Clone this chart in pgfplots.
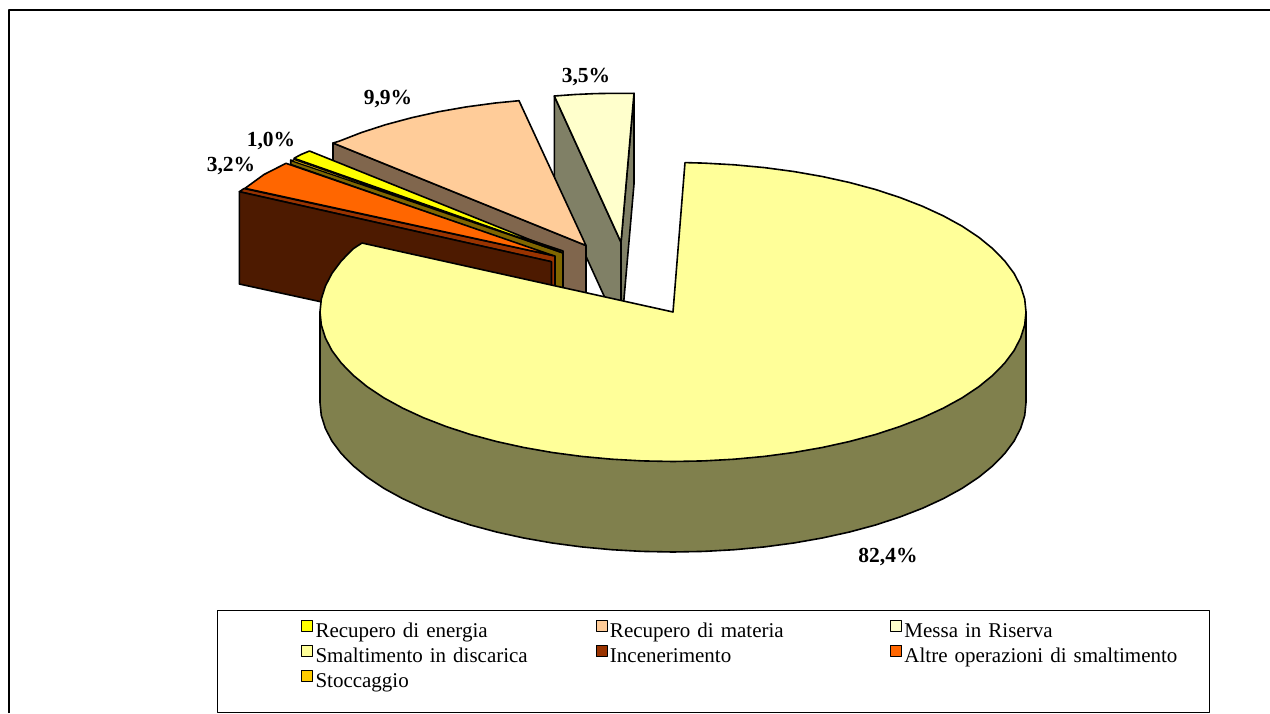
\documentclass[border=0pt]{standalone}
\usepackage{pgfplots}
\usepackage{fontspec}
\setmainfont{Liberation Serif}
\pgfplotsset{compat=1.18}

\definecolor{cRiserva}{HTML}{FFFFCC}
\definecolor{wRiserva}{HTML}{808066}
\definecolor{cMateria}{HTML}{FFCC99}
\definecolor{wMateria}{HTML}{80664D}
\definecolor{cEnergia}{HTML}{FFFF00}
\definecolor{wEnergia}{HTML}{806600}
\definecolor{cStocc}{HTML}{FFCC00}
\definecolor{cAltre}{HTML}{FF6600}
\definecolor{cInc}{HTML}{993300}
\definecolor{wInc}{HTML}{4D1A00}
\definecolor{cDisc}{HTML}{FFFF99}
\definecolor{wDisc}{HTML}{80804D}

\begin{document}
\begin{tikzpicture}
\useasboundingbox (0,0) rectangle (1270pt,713pt);
\begin{axis}[
    at={(0,0)}, anchor=south west,
    scale only axis, width=1270pt, height=713pt,
    xmin=0, xmax=1270, ymin=0, ymax=713,
    y dir=reverse, hide axis, clip=false,
    every axis plot/.append style={draw=black, line width=1.6pt, line join=round},
    legend style={
        at={(axis cs:301,619.3)}, anchor=north west, draw=none, fill=none,
        font=\fontsize{21}{25}\selectfont, legend columns=3,
        inner sep=0pt, outer sep=0pt,
        nodes={inner sep=0pt, text width=280pt, text height=18pt, text depth=7pt, anchor=base, align=left},
    },
    legend image code/.code={
        \draw[#1, line width=1.4pt] (0pt,5.7pt) rectangle (11pt,17pt);
        \path (13pt,0pt);},
]
% legend images have to come first so the entries pick them up
\addlegendimage{fill=cEnergia}
\addlegendimage{fill=cMateria}
\addlegendimage{fill=cRiserva}
\addlegendimage{fill=cDisc}
\addlegendimage{fill=cInc}
\addlegendimage{fill=cAltre}
\addlegendimage{fill=cStocc}

% frame: left and top only, the page cuts the rest
\addplot[line width=1.5pt] coordinates {(9,713)(9,10)(1270,10)};
% legend box
\addplot[line width=1pt] coordinates {(217,712)(217,610.5)(1209,610.5)(1209,712)} --cycle;

% Messa in Riserva
\addplot[fill=wRiserva] coordinates {(554.3,96)(621,242.3)(621,333)(554.3,187)} --cycle;
\addplot[fill=wRiserva] coordinates {(634,93.3)(621,242.3)(621,333)(634,184)} --cycle;
\addplot[fill=cRiserva] coordinates {(554.3,96)(575,94.5)(595,93.6)(615,93.3)(634,93.3)(621,242.3)} --cycle;

% Recupero di materia
\addplot[fill=wMateria] coordinates {(333,143)(586,245.5)(586,336)(333,234)} --cycle;
\addplot[fill=cMateria] coordinates {(519,100.7)(495.3,103)(466.3,106.9)(438.2,111.8)(411.3,117.8)(385.6,124.7)(361.5,132.5)(339.1,141.2)(333,143)(586,245.5)} --cycle;

% Recupero di energia + Stoccaggio (almost a line)
\addplot[fill=wEnergia] coordinates {(290.7,160)(563,251)(563,345)(555,345)(555,257)(290.7,164.5)} --cycle;
\addplot[fill=cEnergia] coordinates {(309.5,151)(301,154.5)(294,158.3)(563,253)} --cycle;
\addplot[fill=cStocc, line width=1.2pt] coordinates {(294,159.5)(563,253)(292,161)} --cycle;

% Altre operazioni di smaltimento
\addplot[fill=cInc] coordinates {(244,188.5)(555,256)(555,350)(551,350)(551,261.7)(239.5,191.7)} --cycle;
\addplot[fill=cAltre] coordinates {(286,163.3)(264,174.5)(245,188.3)(553,255.5)} --cycle;

% Incenerimento
\addplot[fill=wInc] coordinates {(239.3,191.7)(551.5,261.7)(551.5,352)(239.3,284)} --cycle;

% Smaltimento in discarica: side wall, then top face
\addplot[fill=wDisc] coordinates {
    (320,312)(320,402.5)(321.3,415.5)(325.4,428.5)(332,441.2)(341.3,453.6)(353.1,465.7)(367.3,477.3)
    (383.8,488.3)(402.6,498.6)(423.4,508.2)(446.1,517)(470.5,525)(496.5,532)(523.8,538)(552.3,543)
    (581.6,546.9)(611.7,549.7)(642.2,551.4)(673,552)(703.8,551.4)(734.3,549.7)(764.4,546.9)(793.7,543)
    (822.2,538)(849.5,532)(875.5,525)(899.9,517)(922.6,508.2)(943.4,498.6)(962.2,488.3)(978.7,477.3)
    (992.9,465.7)(1004.7,453.6)(1014,441.2)(1020.6,428.5)(1024.7,415.5)(1026,402.5)(1026,312)
} --cycle;
\addplot[fill=cDisc] coordinates {
    (673,312)(685,162.6)(703.8,163.1)(734.3,164.8)(764.4,167.6)(793.7,171.5)(822.2,176.5)(849.5,182.5)
    (875.5,189.5)(899.9,197.5)(922.6,206.3)(943.4,215.9)(962.2,226.2)(978.7,237.2)(992.9,248.8)
    (1004.7,260.9)(1014,273.3)(1020.6,286)(1024.7,299)(1026,312)(1024.7,325)(1020.6,338)(1014,350.7)
    (1004.7,363.1)(992.9,375.2)(978.7,386.8)(962.2,397.8)(943.4,408.1)(922.6,417.7)(899.9,426.5)
    (875.5,434.5)(849.5,441.5)(822.2,447.5)(793.7,452.5)(764.4,456.4)(734.3,459.2)(703.8,460.9)
    (673,461.5)(642.2,460.9)(611.7,459.2)(581.6,456.4)(552.3,452.5)(523.8,447.5)(496.5,441.5)
    (470.5,434.5)(446.1,426.5)(423.4,417.7)(402.6,408.1)(383.8,397.8)(367.3,386.8)(353.1,375.2)
    (341.3,363.1)(332,350.7)(325.4,338)(321.3,325)(320,312)(321.3,299)(325.4,286)(332,273.3)
    (341.3,260.9)(353.1,248.8)(362,243)
} --cycle;

\legend{Recupero di energia, Recupero di materia, Messa in Riserva,
    Smaltimento in discarica, Incenerimento, Altre operazioni di smaltimento, Stoccaggio}

% value labels
\node[font=\fontsize{21.5}{25}\selectfont\bfseries] at (axis cs:888,557) {82,4\%};
\node[font=\fontsize{21.5}{25}\selectfont\bfseries] at (axis cs:388,99) {9,9\%};
\node[font=\fontsize{21.5}{25}\selectfont\bfseries] at (axis cs:586,77) {3,5\%};
\node[font=\fontsize{21.5}{25}\selectfont\bfseries] at (axis cs:271,141) {1,0\%};
\node[font=\fontsize{21.5}{25}\selectfont\bfseries] at (axis cs:231,166) {3,2\%};
\end{axis}
\end{tikzpicture}
\end{document}
